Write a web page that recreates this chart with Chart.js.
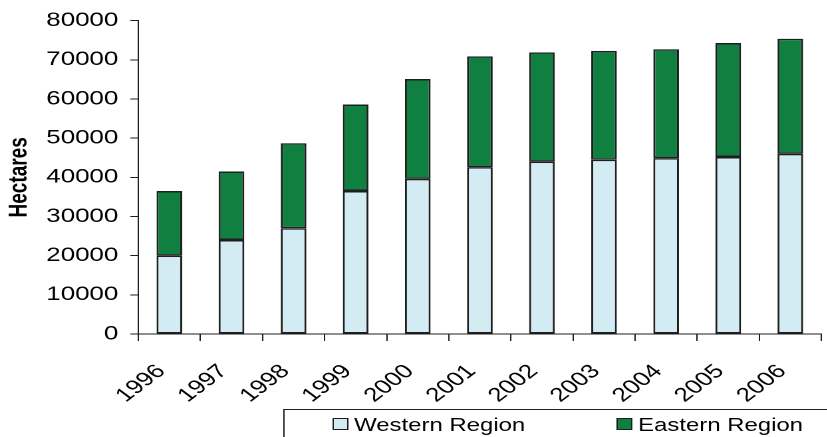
<!DOCTYPE html>
<html>
<head>
<meta charset="utf-8">
<script src="https://cdn.jsdelivr.net/npm/chart.js@4/dist/chart.umd.min.js"></script>
<style>
  html, body { margin: 0; padding: 0; width: 827px; height: 437px; overflow: hidden; background: #fff; }
  /* the chart is laid out narrow and widened horizontally */
  #wrap { position: absolute; left: 0; top: 0; width: 630px; height: 437px; transform: scaleX(1.33); transform-origin: 0 0; }
  canvas { display: block; }
</style>
</head>
<body>
<div id="wrap"><canvas id="c" width="630" height="437"></canvas></div>
<script>
// Planted area by region, hectares
const years = ['1996', '1997', '1998', '1999', '2000', '2001', '2002', '2003', '2004', '2005', '2006'];
const western = [20000, 24000, 27000, 36500, 39600, 42600, 44000, 44500, 44900, 45200, 46000];
const eastern = [16500, 17500, 21700, 22100, 25500, 28300, 27900, 27800, 27800, 29100, 29400];
const seriesNames = ['Western Region', 'Eastern Region'];
const yMin = 0, yMax = 80000, yStep = 10000;

const FONT = '"Liberation Sans", Arial, sans-serif';
const INK = '#1e1e1e';

// Legend in an open-cornered frame along the bottom edge
const boxLegend = {
  id: 'boxLegend',
  afterDraw(chart) {
    const ctx = chart.ctx;
    ctx.save();
    ctx.strokeStyle = INK;
    ctx.lineWidth = 1;
    ctx.beginPath();
    ctx.moveTo(213.5, chart.height + 2);
    ctx.lineTo(213.5, 409.5);
    ctx.lineTo(chart.width + 2, 409.5);
    ctx.stroke();
    const starts = [250.5, 464];
    ctx.font = '18px ' + FONT;
    ctx.textBaseline = 'alphabetic';
    chart.data.datasets.forEach((ds, i) => {
      const x = starts[i];
      ctx.fillStyle = ds.backgroundColor;
      ctx.fillRect(x, 418.5, 11, 11);
      ctx.strokeStyle = INK;
      ctx.strokeRect(x, 418.5, 11, 11);
      ctx.fillStyle = '#000';
      ctx.fillText(ds.label, x + 15.7, 431);
    });
    ctx.restore();
  }
};

new Chart(document.getElementById('c'), {
  type: 'bar',
  data: {
    labels: years,
    datasets: [
      { label: seriesNames[0], data: western, backgroundColor: '#D3ECF3' },
      { label: seriesNames[1], data: eastern, backgroundColor: '#108040' }
    ]
  },
  options: {
    responsive: false,
    animation: false,
    devicePixelRatio: 2,
    layout: { padding: { top: 18, right: 5, left: 0, bottom: 0 } },
    datasets: {
      bar: {
        barPercentage: 0.413,
        categoryPercentage: 1,
        borderWidth: 1.5,
        borderColor: INK,
        borderSkipped: false
      }
    },
    plugins: {
      legend: { display: false },
      tooltip: { enabled: false }
    },
    scales: {
      x: {
        stacked: true,
        grid: { offset: true, drawOnChartArea: false, drawTicks: true, tickLength: 7, color: INK, lineWidth: 1 },
        border: { color: INK, width: 1 },
        ticks: {
          minRotation: 45,
          maxRotation: 45,
          color: '#000',
          font: { family: FONT, size: 19.5 },
          padding: 19,
          labelOffset: -6
        },
        afterFit(s) { s.height = 103; }
      },
      y: {
        stacked: true,
        min: yMin,
        max: yMax,
        grid: { drawOnChartArea: false, drawTicks: true, tickLength: 6, color: INK, lineWidth: 1 },
        border: { color: INK, width: 1 },
        ticks: {
          stepSize: yStep,
          padding: 9,
          color: '#000',
          font: { family: FONT, size: 19.5 },
          callback: v => String(v)
        },
        title: {
          display: true,
          text: 'Hectares',
          color: '#000',
          font: { family: FONT, size: 19, weight: 'bold' },
          padding: { top: 3.6, bottom: 0 }
        },
        afterFit(s) { s.width = 104; }
      }
    }
  },
  plugins: [boxLegend]
});
</script>
</body>
</html>
